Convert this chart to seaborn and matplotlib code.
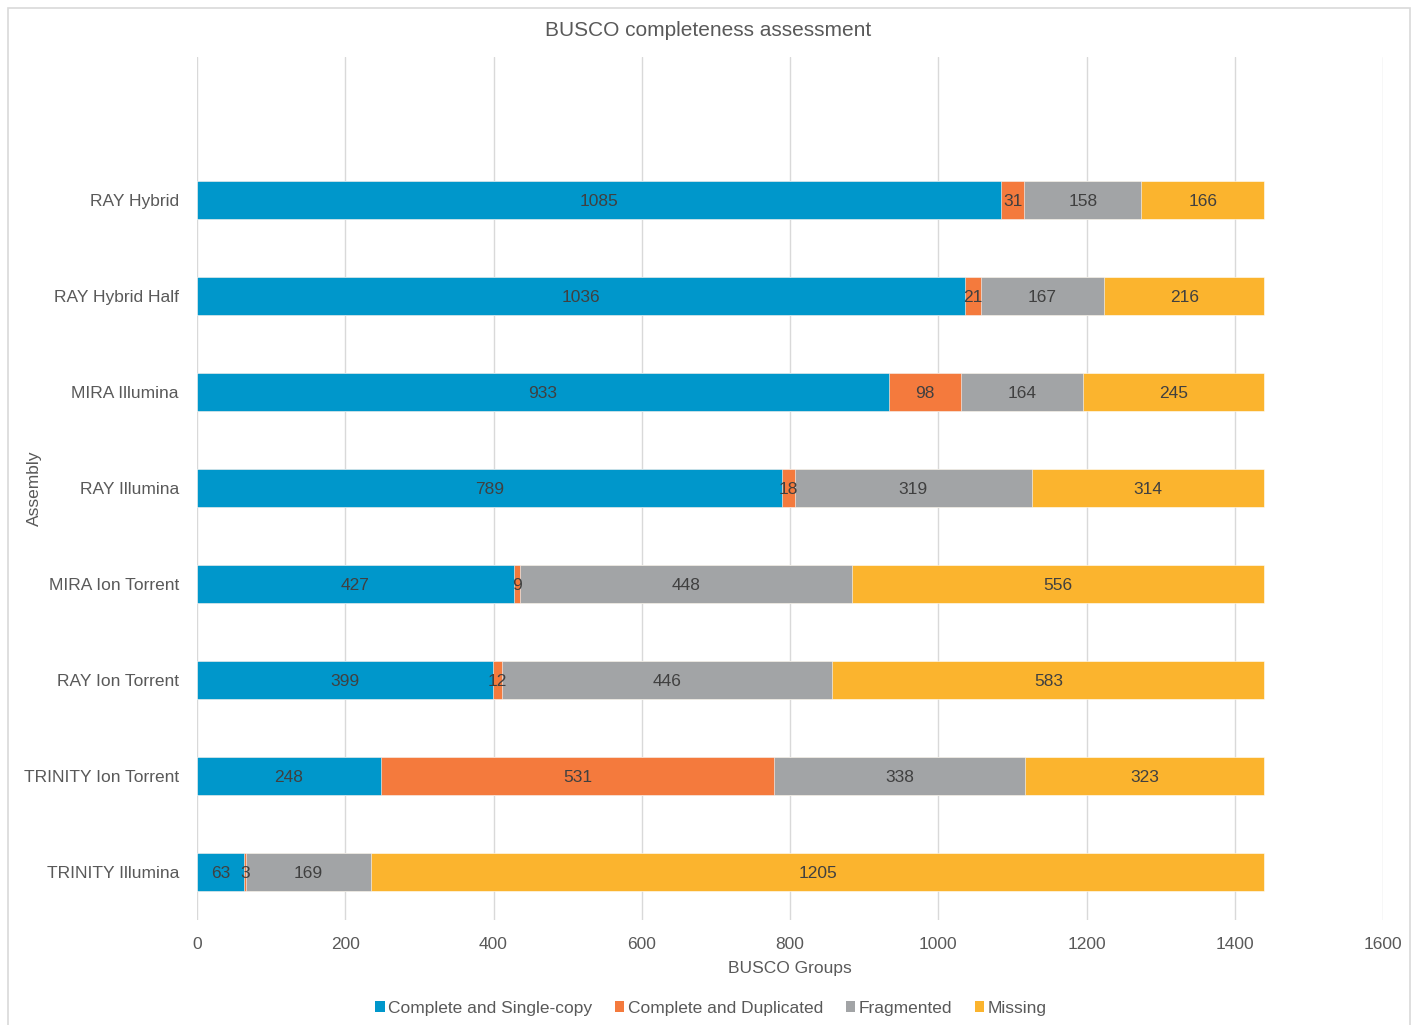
import numpy as np
import pandas as pd
import seaborn as sns
import matplotlib
matplotlib.use("Agg")
import matplotlib.pyplot as plt
from matplotlib.patches import Rectangle, Patch

assemblies = ["RAY Hybrid", "RAY Hybrid Half", "MIRA Illumina", "RAY Illumina",
              "MIRA Ion Torrent", "RAY Ion Torrent", "TRINITY Ion Torrent", "TRINITY Illumina"]
single_copy = [1085, 1036, 933, 789, 427, 399, 248, 63]
duplicated = [31, 21, 98, 18, 9, 12, 531, 3]
fragmented = [158, 167, 164, 319, 448, 446, 338, 169]
missing = [166, 216, 245, 314, 556, 583, 323, 1205]

series_names = ["Complete and Single-copy", "Complete and Duplicated", "Fragmented", "Missing"]
series_values = [single_copy, duplicated, fragmented, missing]
colors = ["#0097CB", "#F47A3D", "#A2A4A6", "#FBB42E"]
xticks = [0, 200, 400, 600, 800, 1000, 1200, 1400, 1600]

sns.set_theme(style="white")
FAM = ["Liberation Sans Narrow", "Liberation Sans", "DejaVu Sans"]
plt.rcParams["font.family"] = FAM
TXT = "#595959"
FS = 12.5

fig = plt.figure(figsize=(14.16, 10.25), dpi=100)
ax = fig.add_axes([197 / 1416, 1 - 920 / 1025, (1383 - 197) / 1416, (920 - 57) / 1025])

data = np.array(series_values, dtype=float)
cum = np.cumsum(data, axis=0)
# Draw cumulative layers from the outermost to the innermost
for i in range(len(series_names) - 1, -1, -1):
    df = pd.DataFrame({"Assembly": assemblies, "value": cum[i]})
    sns.barplot(data=df, x="value", y="Assembly", orient="h", color=colors[i],
                saturation=1, width=0.4, edgecolor="white", linewidth=0.4, ax=ax,
                errorbar=None, order=assemblies)

# segment labels
for i in range(len(series_names)):
    left = cum[i] - data[i]
    for j, name in enumerate(assemblies):
        v = data[i][j]
        ax.text(left[j] + v / 2, j + 0.02, f"{int(v)}", ha="center", va="center",
                fontsize=FS, color="#404040")

ax.set_xlim(0, 1600)
ax.set_ylim(7.5, -1.49)
ax.set_xticks(xticks)
ax.set_xticklabels([str(t) for t in xticks])
ax.grid(axis="x", color="#D9D9D9", linewidth=1)
ax.grid(axis="y", visible=False)
ax.set_axisbelow(True)
for s in ax.spines.values():
    s.set_visible(False)
ax.tick_params(axis="both", length=0, labelsize=FS, colors=TXT)
ax.tick_params(axis="x", pad=12)
ax.tick_params(axis="y", pad=13)
ax.set_xlabel("BUSCO Groups", fontsize=FS, color=TXT, labelpad=7)
ax.set_ylabel("Assembly", fontsize=FS, color=TXT)
ax.yaxis.set_label_coords(-0.131, 0.5)

fig.text(0.5, 1 - 30 / 1025, "BUSCO completeness assessment", ha="center", va="center",
         fontsize=15, color=TXT)

handles = [Patch(facecolor=c, edgecolor="none") for c in colors]
fig.legend(handles, series_names, loc="center", bbox_to_anchor=(711 / 1416, 1 - 1008 / 1025),
           ncol=4, frameon=False, fontsize=FS, handlelength=0.55, handleheight=0.55,
           handletextpad=0.2, columnspacing=1.3, labelcolor=TXT)

fig.patches.append(Rectangle((8 / 1416, -0.01), (1410 - 8) / 1416, 1 - 8 / 1025 + 0.01,
                             transform=fig.transFigure, fill=False, edgecolor="#D9D9D9",
                             linewidth=1.2))

fig.savefig("out.png", dpi=100)
